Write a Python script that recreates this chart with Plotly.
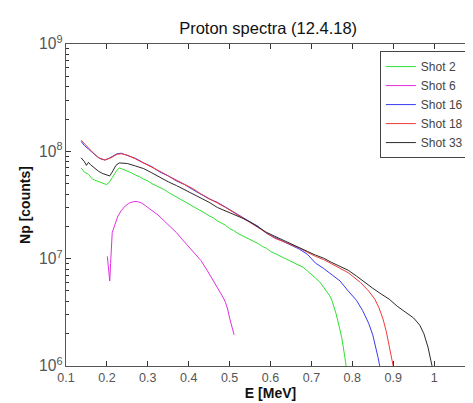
import plotly.graph_objects as go

# ---- data ----
series_names = ["Shot 2", "Shot 6", "Shot 16", "Shot 18", "Shot 33"]
series_colors = ["#2fe02f", "#e030e0", "#3a3af0", "#f03a3a", "#2a2a2a"]

e_shot2 = [0.137, 0.145, 0.155, 0.165, 0.17, 0.18, 0.19, 0.199, 0.205, 0.215, 0.225, 0.231,
           0.24, 0.25, 0.26, 0.27, 0.28, 0.29, 0.30, 0.31, 0.32, 0.33, 0.34, 0.35, 0.36, 0.37,
           0.38, 0.39, 0.40, 0.41, 0.42, 0.43, 0.44, 0.45, 0.46, 0.47, 0.48, 0.49, 0.50, 0.51,
           0.52, 0.53, 0.54, 0.55, 0.56, 0.57, 0.58, 0.59, 0.60, 0.61, 0.62, 0.63, 0.64, 0.65,
           0.66, 0.67, 0.68, 0.69, 0.70, 0.71, 0.72, 0.73, 0.74, 0.745, 0.75, 0.755, 0.76,
           0.765, 0.77, 0.774, 0.778, 0.782, 0.785]
np_shot2 = [7.0e7, 6.4e7, 6.1e7, 5.5e7, 5.4e7, 5.2e7, 5.0e7, 4.9e7, 5.1e7, 5.9e7, 6.7e7, 7.0e7,
            6.8e7, 6.5e7, 6.3e7, 6.0e7, 5.8e7, 5.5e7, 5.3e7, 5.0e7, 4.8e7, 4.55e7, 4.4e7, 4.15e7,
            3.95e7, 3.75e7, 3.6e7, 3.4e7, 3.25e7, 3.1e7, 2.95e7, 2.8e7, 2.65e7, 2.5e7, 2.4e7,
            2.25e7, 2.15e7, 2.05e7, 1.9e7, 1.83e7, 1.72e7, 1.65e7, 1.58e7, 1.5e7, 1.44e7, 1.38e7,
            1.3e7, 1.25e7, 1.17e7, 1.12e7, 1.08e7, 1.03e7, 9.9e6, 9.4e6, 9.1e6, 8.6e6, 8.3e6,
            7.7e6, 7.2e6, 6.6e6, 6.1e6, 5.4e6, 4.9e6, 4.5e6, 4.1e6, 3.6e6, 3.1e6, 2.6e6, 2.2e6,
            1.85e6, 1.5e6, 1.2e6, 1.0e6]

e_shot6 = [0.201, 0.203, 0.205, 0.207, 0.209, 0.211, 0.213, 0.22, 0.227, 0.235, 0.245, 0.255,
           0.265, 0.275, 0.285, 0.295, 0.31, 0.325, 0.34, 0.355, 0.37, 0.385, 0.40, 0.415,
           0.43, 0.445, 0.46, 0.475, 0.485, 0.49, 0.495, 0.50, 0.505, 0.511]
np_shot6 = [1.05e7, 9.0e6, 7.5e6, 6.2e6, 9.0e6, 1.4e7, 1.75e7, 2.1e7, 2.5e7, 2.8e7, 3.1e7, 3.3e7,
            3.4e7, 3.4e7, 3.3e7, 3.1e7, 2.8e7, 2.55e7, 2.25e7, 2.0e7, 1.75e7, 1.5e7, 1.3e7,
            1.12e7, 9.6e6, 7.8e6, 6.3e6, 5.1e6, 4.3e6, 3.9e6, 3.4e6, 2.8e6, 2.3e6, 1.95e6]

e_shot16 = [0.137, 0.145, 0.155, 0.165, 0.175, 0.185, 0.195, 0.205, 0.215, 0.225, 0.235, 0.25,
            0.27, 0.29, 0.31, 0.33, 0.35, 0.37, 0.39, 0.41, 0.43, 0.45, 0.47, 0.49, 0.51, 0.53,
            0.55, 0.57, 0.59, 0.61, 0.63, 0.65, 0.67, 0.69, 0.71, 0.73, 0.75, 0.77, 0.79, 0.81,
            0.825, 0.84, 0.85, 0.858, 0.863, 0.867]
np_shot16 = [1.24e8, 1.13e8, 1.05e8, 9.7e7, 9.0e7, 8.5e7, 8.3e7, 8.6e7, 9.1e7, 9.5e7, 9.6e7, 9.2e7,
             8.6e7, 7.8e7, 7.2e7, 6.4e7, 5.9e7, 5.3e7, 4.9e7, 4.4e7, 4.0e7, 3.6e7, 3.35e7,
             3.0e7, 2.7e7, 2.45e7, 2.2e7, 2.0e7, 1.72e7, 1.58e7, 1.45e7, 1.33e7, 1.23e7, 1.1e7,
             9.1e6, 8.1e6, 7.1e6, 6.2e6, 5.0e6, 4.1e6, 3.3e6, 2.5e6, 1.95e6, 1.5e6, 1.2e6, 1.0e6]

e_shot18 = [0.137, 0.15, 0.165, 0.18, 0.195, 0.21, 0.225, 0.235, 0.25, 0.27, 0.29, 0.31, 0.33,
            0.35, 0.37, 0.39, 0.41, 0.43, 0.45, 0.47, 0.49, 0.51, 0.53, 0.55, 0.57, 0.59, 0.61,
            0.63, 0.65, 0.67, 0.69, 0.71, 0.73, 0.75, 0.77, 0.79, 0.80, 0.82, 0.84, 0.855,
            0.865, 0.875, 0.883, 0.89, 0.896, 0.90]
np_shot18 = [1.27e8, 1.12e8, 9.8e7, 8.7e7, 8.3e7, 8.7e7, 9.4e7, 9.5e7, 9.2e7, 8.5e7, 7.8e7,
             7.1e7, 6.5e7, 5.9e7, 5.4e7, 4.9e7, 4.5e7, 4.0e7, 3.6e7, 3.3e7, 3.0e7, 2.7e7,
             2.45e7, 2.2e7, 1.95e7, 1.74e7, 1.55e7, 1.45e7, 1.35e7, 1.26e7, 1.15e7, 1.05e7,
             9.8e6, 8.9e6, 8.1e6, 7.4e6, 6.9e6, 6.0e6, 5.0e6, 4.2e6, 3.5e6, 2.75e6, 2.1e6,
             1.5e6, 1.2e6, 1.0e6]

e_shot33 = [0.137, 0.145, 0.15, 0.155, 0.16, 0.17, 0.18, 0.19, 0.20, 0.207, 0.215, 0.222, 0.23,
            0.24, 0.25, 0.27, 0.29, 0.31, 0.33, 0.35, 0.37, 0.39, 0.41, 0.43, 0.45, 0.47, 0.49,
            0.51, 0.53, 0.55, 0.57, 0.59, 0.61, 0.63, 0.65, 0.67, 0.69, 0.71, 0.73, 0.75, 0.77,
            0.79, 0.81, 0.83, 0.85, 0.87, 0.89, 0.91, 0.93, 0.95, 0.965, 0.975, 0.985, 0.99,
            0.995]
np_shot33 = [8.7e7, 8.0e7, 7.4e7, 7.9e7, 7.5e7, 7.0e7, 6.5e7, 6.2e7, 6.0e7, 5.9e7, 6.6e7, 7.4e7,
             7.8e7, 7.8e7, 7.7e7, 7.3e7, 6.9e7, 6.3e7, 5.7e7, 5.2e7, 4.8e7, 4.4e7, 4.05e7,
             3.7e7, 3.35e7, 3.0e7, 2.8e7, 2.6e7, 2.4e7, 2.2e7, 1.95e7, 1.76e7, 1.62e7, 1.5e7,
             1.38e7, 1.27e7, 1.17e7, 1.08e7, 1.01e7, 9.2e6, 8.5e6, 7.8e6, 6.9e6, 6.0e6, 5.3e6,
             4.7e6, 4.2e6, 3.6e6, 3.2e6, 2.8e6, 2.4e6, 2.0e6, 1.5e6, 1.25e6, 1.0e6]

x_tickvals = [0.1, 0.2, 0.3, 0.4, 0.5, 0.6, 0.7, 0.8, 0.9, 1.0, 1.1]
x_ticktext = ["0.1", "0.2", "0.3", "0.4", "0.5", "0.6", "0.7", "0.8", "0.9", "1", "1.1"]

xs = [e_shot2, e_shot6, e_shot16, e_shot18, e_shot33]
ys = [np_shot2, np_shot6, np_shot16, np_shot18, np_shot33]

fig = go.Figure()
for name, color, x, y in zip(series_names, series_colors, xs, ys):
    fig.add_trace(go.Scatter(x=x, y=y, mode="lines", name=name,
                             line=dict(color=color, width=1)))

font_family = "Liberation Sans, Arial, sans-serif"
axis_color = "#555555"

fig.update_layout(
    width=473, height=403,
    margin=dict(l=58, r=6, t=36, b=45),
    paper_bgcolor="white", plot_bgcolor="white",
    font=dict(family=font_family, size=12, color="#444444"),
    title=dict(text="Proton spectra (12.4.18)", x=0.55, xanchor="center",
               y=0.95, yanchor="middle",
               font=dict(family=font_family, size=16.5, color="#111111")),
    showlegend=True,
    legend=dict(x=0.985, xanchor="right", y=0.978, yanchor="top",
                bordercolor="#444444", borderwidth=1, bgcolor="white",
                font=dict(family=font_family, size=12, color="#444444"),
                tracegroupgap=0, itemwidth=30),
)

fig.update_xaxes(
    range=[0.1, 1.1], tickmode="array", tickvals=x_tickvals, ticktext=x_ticktext,
    ticks="inside", ticklen=5, tickcolor="#333333", showline=True, linecolor=axis_color,
    linewidth=1, mirror="ticks", showgrid=False, zeroline=False,
    tickfont=dict(size=12.5, color="#555555"),
    title=dict(text="<b>E [MeV]</b>", standoff=4,
               font=dict(family=font_family, size=14, color="#111111")),
)
fig.update_yaxes(
    type="log", range=[6, 9], tickmode="linear", tick0=0, dtick=1,
    exponentformat="power", showexponent="all",
    ticks="inside", ticklen=5, tickcolor="#333333", showline=True, linecolor=axis_color,
    linewidth=1, mirror="ticks", showgrid=False, zeroline=False,
    tickfont=dict(size=12.5, color="#555555"),
    minor=dict(dtick="D1", ticks="inside", ticklen=3, tickcolor="#333333",
               tickwidth=1, showgrid=False),
    title=dict(text="<b>Np [counts]</b>", standoff=5,
               font=dict(family=font_family, size=14, color="#111111")),
)

fig.write_html("out.html")
